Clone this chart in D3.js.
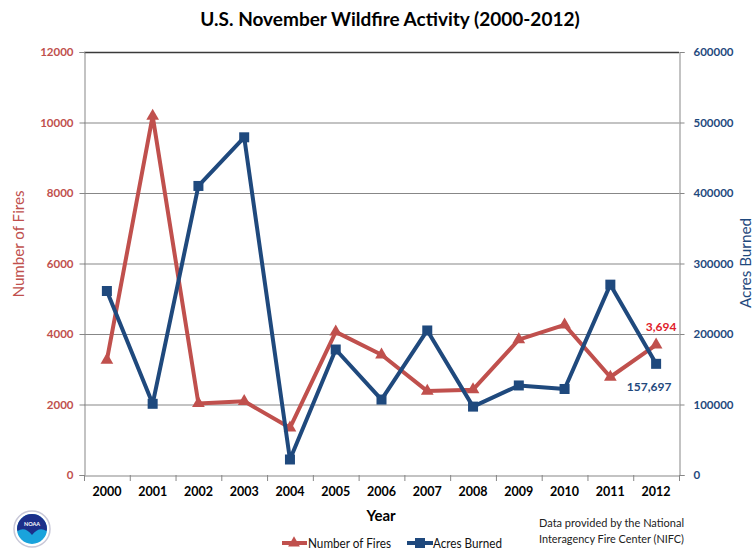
<!DOCTYPE html>
<html><head><meta charset="utf-8">
<script src="https://cdn.jsdelivr.net/npm/d3@7"></script>
<style>
body{margin:0;background:#fff;}
svg{font-family:Lato, "Open Sans", sans-serif;}
</style></head>
<body><svg id="c" width="754" height="550"></svg>
<script>
const years = ["2000","2001","2002","2003","2004","2005","2006","2007","2008","2009","2010","2011","2012"];
const fires = [3260,10180,2030,2090,1340,4060,3410,2380,2420,3840,4260,2780,3694];
const acres = [261000,101000,410000,479000,22000,178000,107000,205000,97000,127000,122000,270000,157697];
const leftTicks = [0,2000,4000,6000,8000,10000,12000];
const rightTicks = [0,100000,200000,300000,400000,500000,600000];

const RED="#C0504D", BLUE="#1F497D";
const svg=d3.select("#c");
const L=84,R=679,T=52,B=475;
const x=d3.scaleBand().domain(years).range([L,R]);
const yL=d3.scaleLinear().domain([0,12000]).range([B,T]);
const yR=d3.scaleLinear().domain([0,600000]).range([B,T]);

// gridlines
svg.append("g").selectAll("line").data(leftTicks.filter(d=>d>0)).join("line")
 .attr("x1",L).attr("x2",R).attr("y1",d=>yL(d)+0.5).attr("y2",d=>yL(d)+0.5)
 .attr("stroke",d=>d===12000?"#3a3a3a":"#878787").attr("stroke-width",d=>d===12000?1.5:1.2);

// left axis
const gl=svg.append("g").attr("transform",`translate(${L+0.5},0)`)
 .call(d3.axisLeft(yL).tickValues(leftTicks).tickSize(5).tickPadding(6).tickFormat(d3.format("d")));
gl.select(".domain").attr("stroke","#878787");
gl.selectAll(".tick line").attr("stroke","#878787");
gl.selectAll("text").attr("fill",RED).attr("font-weight","bold").attr("font-size","11.5px").attr("font-family","Lato, sans-serif");

// right axis
const gr=svg.append("g").attr("transform",`translate(${R+0.5},0)`)
 .call(d3.axisRight(yR).tickValues(rightTicks).tickSize(5).tickPadding(9).tickFormat(d3.format("d")));
gr.select(".domain").attr("stroke","#878787");
gr.selectAll(".tick line").attr("stroke","#878787");
gr.selectAll("text").attr("fill",BLUE).attr("font-weight","bold").attr("font-size","11.5px").attr("font-family","Lato, sans-serif");

// bottom axis
const gb=svg.append("g").attr("transform",`translate(0,${B+0.5})`)
 .call(d3.axisBottom(x).tickSize(0).tickPadding(12));
gb.select(".domain").attr("stroke","#878787");
gb.selectAll("text").attr("fill","#000").attr("font-weight","bold").attr("font-size","12.5px").attr("font-family","Lato, sans-serif");
// category separators
svg.append("g").selectAll("line").data(years.concat(["end"])).join("line")
 .attr("x1",(d,i)=>L+i*x.step()+0.5).attr("x2",(d,i)=>L+i*x.step()+0.5)
 .attr("y1",B).attr("y2",B+6).attr("stroke","#878787");

const cx=d=>x(d)+x.bandwidth()/2;

// fires line
svg.append("path").datum(fires).attr("fill","none").attr("stroke",RED).attr("stroke-width",4).attr("stroke-linejoin","round")
 .attr("d",d3.line().x((d,i)=>cx(years[i])).y(d=>yL(d)));
svg.append("g").selectAll("path").data(fires).join("path")
 .attr("transform",(d,i)=>`translate(${cx(years[i])},${yL(d)})`)
 .attr("d",d3.symbol(d3.symbolTriangle,70)).attr("fill",RED);

// acres line
svg.append("path").datum(acres).attr("fill","none").attr("stroke",BLUE).attr("stroke-width",4).attr("stroke-linejoin","round")
 .attr("d",d3.line().x((d,i)=>cx(years[i])).y(d=>yR(d)));
svg.append("g").selectAll("rect").data(acres).join("rect")
 .attr("x",(d,i)=>cx(years[i])-5).attr("y",d=>yR(d)-5).attr("width",10).attr("height",10).attr("fill",BLUE);

// data labels
svg.append("text").attr("x",cx("2012")+5).attr("y",yL(fires[12])-14).attr("text-anchor","middle")
 .attr("fill","#E0202A").attr("font-weight","bold").attr("font-size","12px").text(d3.format(",")(fires[12]));
svg.append("text").attr("x",cx("2012")-7).attr("y",yR(acres[12])+27).attr("text-anchor","middle")
 .attr("fill",BLUE).attr("font-weight","bold").attr("font-size","12px").text(d3.format(",")(acres[12]));

// title
svg.append("text").attr("x",390).attr("y",26).attr("text-anchor","middle").attr("font-size","19px").attr("font-weight","bold")
 .attr("fill","#000").text("U.S. November Wildfire Activity (2000-2012)");

// axis titles
svg.append("text").attr("transform","translate(24,244) rotate(-90)").attr("text-anchor","middle").attr("fill",RED)
 .attr("font-size","15px").attr("textLength",107).attr("lengthAdjust","spacingAndGlyphs").text("Number of Fires");
svg.append("text").attr("transform","translate(751,263) rotate(-90)").attr("text-anchor","middle").attr("fill",BLUE)
 .attr("font-size","15px").attr("textLength",90).attr("lengthAdjust","spacingAndGlyphs").text("Acres Burned");
svg.append("text").attr("x",381).attr("y",521).attr("text-anchor","middle").attr("font-size","15px").attr("font-weight","bold").text("Year");

// legend
const lg=svg.append("g").attr("font-size","13px").attr("fill","#111");
lg.append("line").attr("x1",282).attr("x2",307).attr("y1",543).attr("y2",543).attr("stroke",RED).attr("stroke-width",4);
lg.append("path").attr("transform","translate(294,543)").attr("d",d3.symbol(d3.symbolTriangle,60)).attr("fill",RED);
lg.append("text").attr("x",308).attr("y",547.5).attr("textLength",83).attr("lengthAdjust","spacingAndGlyphs").text("Number of Fires");
lg.append("line").attr("x1",407).attr("x2",433).attr("y1",543).attr("y2",543).attr("stroke",BLUE).attr("stroke-width",4);
lg.append("rect").attr("x",415).attr("y",538).attr("width",10).attr("height",10).attr("fill",BLUE);
lg.append("text").attr("x",433).attr("y",547.5).attr("textLength",69).attr("lengthAdjust","spacingAndGlyphs").text("Acres Burned");

// source
svg.append("text").attr("x",539).attr("y",527).attr("font-size","11.5px").attr("fill","#222")
 .attr("textLength",145).attr("lengthAdjust","spacingAndGlyphs").text("Data provided  by the National");
svg.append("text").attr("x",539).attr("y",542.5).attr("font-size","11.5px").attr("fill","#222")
 .attr("textLength",145).attr("lengthAdjust","spacingAndGlyphs").text("Interagency Fire Center (NIFC)");

// NOAA logo
const logo=svg.append("g").attr("transform","translate(32,529)");
logo.append("circle").attr("r",18).attr("fill","#fff").attr("stroke","#c8c8d8").attr("stroke-width",1.5);
logo.append("circle").attr("r",15).attr("fill","#1aa3dc");
logo.append("path").attr("d","M-15,0 A15,15 0 0 1 15,0 L14.5,2 Q7,-3 0,6 Q-7,-3 -14.5,2 Z").attr("fill","#1c2f8a");
logo.append("text").attr("y",-3).attr("text-anchor","middle").attr("fill","#fff").attr("font-size","5.5px").attr("font-weight","bold").text("NOAA");
</script></body></html>
